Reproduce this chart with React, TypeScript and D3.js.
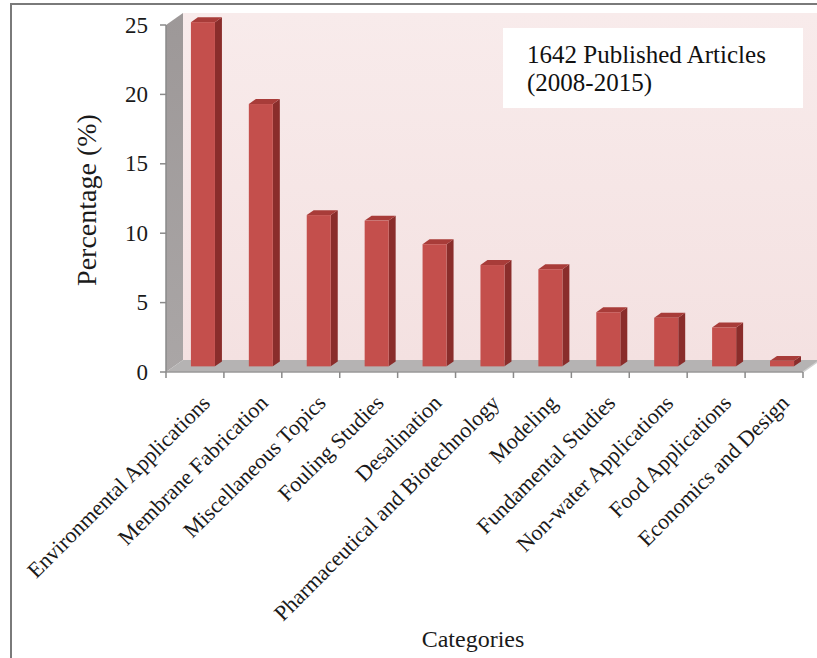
import React from 'react';
import * as d3 from 'd3';

// categories and their share of published articles (%)
const categories = [
  'Environmental Applications',
  'Membrane Fabrication',
  'Miscellaneous Topics',
  'Fouling Studies',
  'Desalination',
  'Pharmaceutical and Biotechnology',
  'Modeling',
  'Fundamental Studies',
  'Non-water Applications',
  'Food Applications',
  'Economics and Design',
];
const percentages = [24.8, 18.9, 10.9, 10.5, 8.8, 7.3, 7.0, 3.9, 3.5, 2.8, 0.4];
const yTicks = [0, 5, 10, 15, 20, 25];
const noteLines = ['1642 Published Articles', '(2008-2015)'];

const W = 817;
const H = 658;
const FONT = '"Liberation Serif", "Times New Roman", serif';

const App: React.FC = () => {
  // front plane of the 3D box
  const x = d3.scaleBand<string>().domain(categories).range([166, 803]);
  const y = d3.scaleLinear().domain([0, 25]).range([372, 25]);

  // depth vector of the box
  const dx = 17;
  const dy = -12;
  // bars sit between these depth fractions
  const f0 = 0.47;
  const f1 = 0.88;
  const barW = x.bandwidth() * 0.415;

  const x0 = x.range()[0];
  const x1 = x.range()[1];
  const yb = y(0);
  const yt = y(25);

  const pts = (p: number[][]) => p.map(q => q.join(',')).join(' ');

  return (
    <>
      <style>{`body{margin:0}`}</style>
      <svg width={W} height={H} style={{ display: 'block', background: '#fff' }} fontFamily={FONT}>
        <defs>
          <linearGradient id="wallBack" x1="0" y1="0" x2="0" y2="1">
            <stop offset="0" stopColor="#f8ebeb" />
            <stop offset="1" stopColor="#f4e1e1" />
          </linearGradient>
          <linearGradient id="wallLeft" x1="0" y1="0" x2="0" y2="1">
            <stop offset="0" stopColor="#9d9898" />
            <stop offset="1" stopColor="#aaa6a6" />
          </linearGradient>
        </defs>

        {/* outer frame */}
        <rect x={11} y={4} width={W} height={H} fill="none" stroke="#7a7a7a" strokeWidth={2} />

        {/* back wall */}
        <polygon points={pts([[x0 + dx, yt + dy], [x1 + dx + 20, yt + dy], [x1 + dx + 20, yb + dy], [x0 + dx, yb + dy]])} fill="url(#wallBack)" />
        {/* left wall */}
        <polygon points={pts([[x0, yt], [x0 + dx, yt + dy], [x0 + dx, yb + dy], [x0, yb]])} fill="url(#wallLeft)" />
        {/* floor */}
        <polygon points={pts([[x0, yb], [x1, yb], [x1 + dx, yb + dy], [x0 + dx, yb + dy]])} fill="#b5b3b3" />
        <line x1={x0} x2={x1} y1={yb} y2={yb} stroke="#9a9898" strokeWidth={1.5} />
        <line x1={x1} x2={x1 + dx} y1={yb} y2={yb + dy} stroke="#cfcfcf" strokeWidth={1.5} />

        {/* bars */}
        {categories.map((c, i) => {
          const v = percentages[i];
          const left = (x(c) as number) + (x.bandwidth() - barW) / 2;
          const ax = left + dx * f0;
          const ay = dy * f0;
          const bx = dx * (f1 - f0);
          const by = dy * (f1 - f0);
          const top = y(v) + ay;
          const bot = yb + ay;
          return (
            <g key={c}>
              <polygon points={pts([[ax + barW, top], [ax + barW + bx, top + by], [ax + barW + bx, bot + by], [ax + barW, bot]])} fill="#8a2d2b" />
              <polygon points={pts([[ax, top], [ax + bx, top + by], [ax + barW + bx, top + by], [ax + barW, top]])} fill="#a83c39" />
              <rect x={ax} y={top} width={barW} height={bot - top} fill="#c44f4c" />
            </g>
          );
        })}

        {/* y axis */}
        <line x1={x0} x2={x0} y1={yt} y2={yb} stroke="#8a8a8a" strokeWidth={1.5} />
        {yTicks.map(t => (
          <g key={t}>
            <line x1={x0 - 6} x2={x0} y1={y(t)} y2={y(t)} stroke="#8a8a8a" strokeWidth={1.5} />
            <text x={148} y={y(t)} textAnchor="end" dominantBaseline="central" fontSize={23} fill="#1a1a1a">{t}</text>
          </g>
        ))}

        {/* x axis ticks */}
        {categories.map(c => (x(c) as number)).concat([x1]).map((tx, i) => (
          <line key={i} x1={tx} x2={tx} y1={yb} y2={yb + 6} stroke="#8a8a8a" strokeWidth={1.5} />
        ))}

        {/* category labels */}
        {categories.map(c => {
          const cx = (x(c) as number) + x.bandwidth() / 2 + 5;
          return (
            <text key={c} transform={`translate(${cx},${393}) rotate(-45)`} textAnchor="end"
              dominantBaseline="hanging" fontSize={22} fill="#1a1a1a">{c}</text>
          );
        })}

        {/* axis titles */}
        <text transform="translate(96,200) rotate(-90)" textAnchor="middle" fontSize={28} fill="#1a1a1a">Percentage (%)</text>
        <text x={473} y={647} textAnchor="middle" fontSize={24} fill="#1a1a1a">Categories</text>

        {/* note box */}
        <rect x={503} y={28} width={300} height={80} fill="#fff" />
        {noteLines.map((l, i) => (
          <text key={l} x={527} y={63 + i * 28} fontSize={25} fill="#111">{l}</text>
        ))}
      </svg>
    </>
  );
};

export default App;
